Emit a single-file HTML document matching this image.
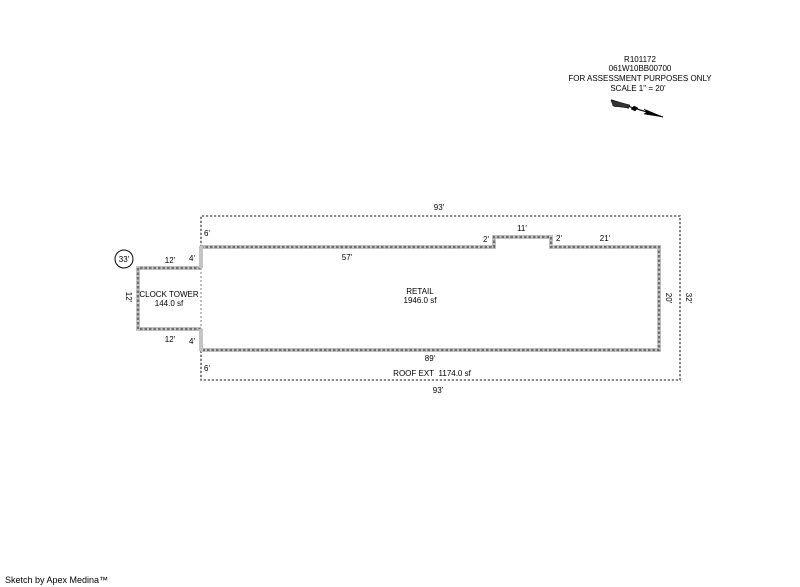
<!DOCTYPE html>
<html>
<head>
<meta charset="utf-8">
<style>
html,body{margin:0;padding:0;background:#fff;}
body{width:800px;height:587px;overflow:hidden;position:relative;}
svg{position:absolute;left:0;top:0;}
text{font-family:"Liberation Sans",Arial,sans-serif;fill:#000;}
</style>
</head>
<body>
<svg width="800" height="587" viewBox="0 0 800 587" xmlns="http://www.w3.org/2000/svg">
  <!-- Header -->
  <g font-size="8" text-anchor="middle">
    <text x="640" y="62">R101172</text>
    <text x="640" y="71">061W10BB00700</text>
    <text x="640" y="81">FOR ASSESSMENT PURPOSES ONLY</text>
    <text x="638" y="91">SCALE 1" = 20'</text>
  </g>
  <!-- North arrow -->
  <g fill="#000" stroke="#000">
    <line x1="611" y1="101" x2="663" y2="117" stroke-width="1.1"/>
    <path d="M611,100 L630,106 M612,103 L629,108 M614,106 L628,107" stroke-width="1.2" fill="none"/>
    <polygon points="611,100 630,105 628,108 613,106" stroke-width="0.4" fill="#333"/>
    <polygon points="634,106 638,108 635,111 631,109" stroke-width="0.5"/>
    <polygon points="644,109 663,117 644,114 647,112" stroke-width="0.5"/>
  </g>

  <!-- Roof ext outline (dotted) -->
  <g fill="none" stroke="#666" stroke-width="1.6" stroke-dasharray="2.2,1.8">
    <path d="M201,247 L201,216 L680,216 L680,380 L201,380 L201,350"/>
  </g>

  <!-- Retail outline: gray band + dark dashes -->
  <g fill="none" stroke-linejoin="miter">
    <path d="M201,247 L494,247 L494,237 L551,237 L551,247 L659,247 L659,350 L201,350" stroke="#c4c4c4" stroke-width="4"/>
    <path d="M201,247 L494,247 L494,237 L551,237 L551,247 L659,247 L659,350 L201,350" stroke="#6e6e6e" stroke-width="2.2" stroke-dasharray="2.5,2"/>
    <!-- clock tower -->
    <path d="M201,268 L138,268 L138,329 L201,329" stroke="#c4c4c4" stroke-width="4"/>
    <path d="M201,268 L138,268 L138,329 L201,329" stroke="#6e6e6e" stroke-width="2.2" stroke-dasharray="2.5,2"/>
    <!-- solid connecting segments -->
    <line x1="201" y1="246" x2="201" y2="268" stroke="#c4c4c4" stroke-width="4"/>
    <line x1="201" y1="329" x2="201" y2="351" stroke="#c4c4c4" stroke-width="4"/>
    <!-- light dotted shared edge -->
    <line x1="201" y1="268" x2="201" y2="329" stroke="#aaa" stroke-width="1.5" stroke-dasharray="2,2"/>
  </g>

  <!-- circle label -->
  <circle cx="124" cy="259" r="9" fill="none" stroke="#000" stroke-width="1"/>
  <text x="124" y="262" font-size="8" text-anchor="middle">33'</text>

  <!-- dimension labels -->
  <g font-size="8" text-anchor="middle">
    <text x="439" y="210">93'</text>
    <text x="207" y="236">6'</text>
    <text x="170" y="263">12'</text>
    <text x="192" y="261">4'</text>
    <text x="347" y="260">57'</text>
    <text x="486" y="242">2'</text>
    <text x="522" y="231">11'</text>
    <text x="559" y="241">2'</text>
    <text x="605" y="241">21'</text>
    <text x="420" y="294">RETAIL</text>
    <text x="420" y="303">1946.0 sf</text>
    <text x="169" y="297">CLOCK TOWER</text>
    <text x="169" y="306">144.0 sf</text>
    <text x="170" y="342">12'</text>
    <text x="192" y="344">4'</text>
    <text x="430" y="361">89'</text>
    <text x="207" y="371">6'</text>
    <text x="432" y="376">ROOF EXT&#160;&#160;1174.0 sf</text>
    <text x="438" y="393">93'</text>
    <text transform="translate(126,297) rotate(90)">12'</text>
    <text transform="translate(666,298) rotate(90)">20'</text>
    <text transform="translate(686,298) rotate(90)">32'</text>
  </g>

  <text x="5" y="583" font-size="9">Sketch by Apex Medina™</text>
</svg>
</body>
</html>
